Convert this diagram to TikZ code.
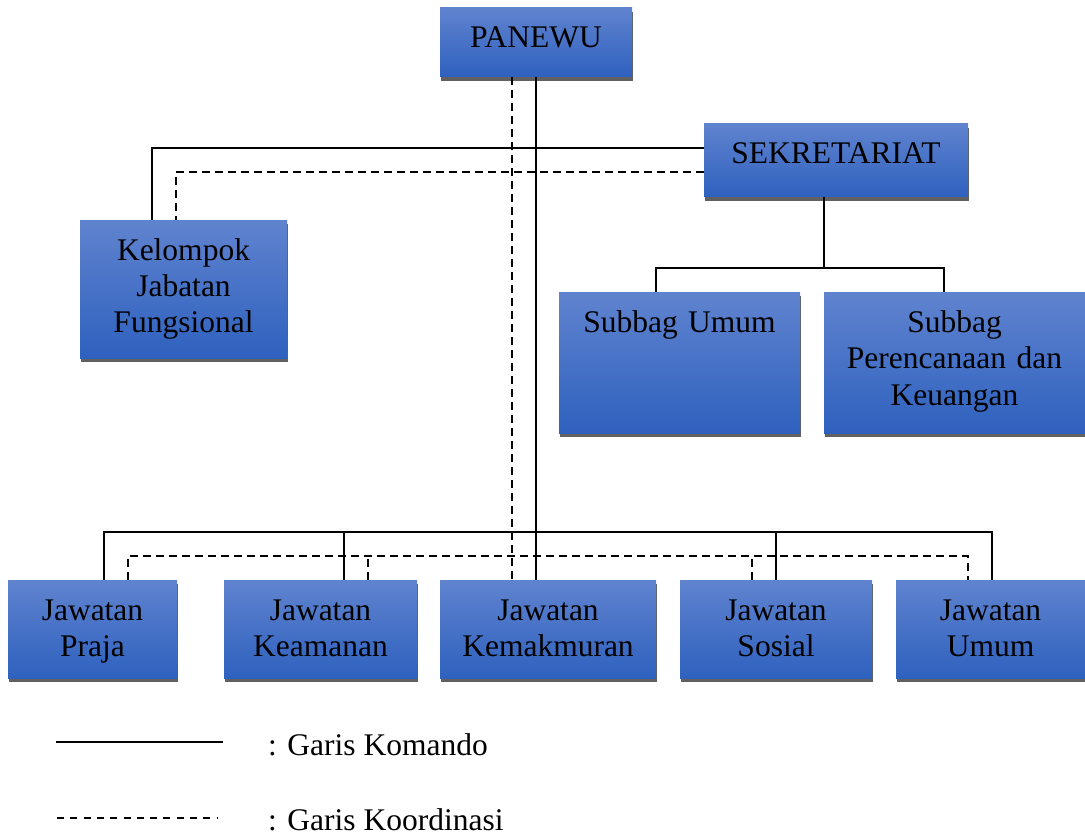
\documentclass[tikz,border=0pt]{standalone}
\usepackage{fontspec}
\setmainfont{Liberation Serif}
\usetikzlibrary{shadows}
\definecolor{boxtop}{RGB}{96,131,207}
\definecolor{boxbot}{RGB}{46,97,190}
\tikzset{
  orgbox/.style={inner sep=0pt, outer sep=0pt, align=center, anchor=north west,
    text height=40pt, draw=none, top color=boxtop, bottom color=boxbot,
    drop shadow={shadow xshift=1pt, shadow yshift=-4pt, fill=black!62, opacity=1},
    font=\fontsize{31.5}{36.5}\selectfont},
  komando/.style={line width=1.8pt, black},
  koord/.style={line width=1.8pt, black, dash pattern=on 8pt off 5pt},
  legkoord/.style={line width=1.6pt, black, dash pattern=on 7pt off 6.3pt},
  legtext/.style={anchor=base west, inner sep=0pt, font=\fontsize{31.5}{36.5}\selectfont}
}
\begin{document}
\begin{tikzpicture}[x=1pt,y=-1pt]
\useasboundingbox (0,0) rectangle (1085,832);
% boxes
\node[orgbox, text width=192pt, text depth=29pt] (pan) at (440,8) {PANEWU};
\node[orgbox, text width=264pt, text depth=33pt] (sek) at (704,124) {SEKRETARIAT};
\node[orgbox, text width=207pt, text depth=98pt] (kjf) at (80,220) {Kelompok\\Jabatan\\Fungsional};
\node[orgbox, text width=241pt, text depth=101pt] (sbu) at (559,292) {Subbag Umum};
\node[orgbox, text width=261pt, text depth=101pt] (spk) at (824,292) {Subbag\\Perencanaan dan\\Keuangan};
\node[orgbox, text width=169pt, text depth=58pt] (jp) at (8,580) {Jawatan\\Praja};
\node[orgbox, text width=193pt, text depth=58pt] (jk) at (224,580) {Jawatan\\Keamanan};
\node[orgbox, text width=216pt, text depth=58pt] (jm) at (440,580) {Jawatan\\Kemakmuran};
\node[orgbox, text width=192pt, text depth=58pt] (js) at (680,580) {Jawatan\\Sosial};
\node[orgbox, text width=189pt, text depth=58pt] (ju) at (896,580) {Jawatan\\Umum};
% PANEWU to bottom row
\draw[komando] (pan.south) -- (pan.south |- jm.north);
\draw[koord] ([xshift=-24pt]pan.south) -- ([xshift=-24pt]pan.south |- jm.north);
% Sekretariat to Kelompok
\draw[komando] ([yshift=-24pt]sek.north west) -| ([xshift=72pt]kjf.north west);
\draw[koord] ([yshift=-48pt]sek.north west) -| ([xshift=96pt]kjf.north west);
% Sekretariat to subbags
\draw[komando] ([xshift=-12pt]sek.south) -- ++(0,71) coordinate (sj);
\draw[komando] ([xshift=97pt]sbu.north west) |- (sj) -| ([xshift=120pt]spk.north west);
% bottom bus (komando)
\draw[komando] ([xshift=96pt]jp.north west) -- ++(0,-48) -| ([xshift=96pt]ju.north west);
\draw[komando] ([xshift=120pt]jk.north west) -- ++(0,-48);
\draw[komando] ([xshift=96pt]js.north west) -- ++(0,-48);
% bottom bus (koordinasi)
\draw[koord] ([xshift=120pt]jp.north west) -- ++(0,-24) -| ([xshift=72pt]ju.north west);
\draw[koord] ([xshift=144pt]jk.north west) -- ++(0,-24);
\draw[koord] ([xshift=72pt]js.north west) -- ++(0,-24);
% legend
\coordinate (l1a) at (56,742);
\coordinate (l1b) at (223,742);
\coordinate (l2a) at (57,818);
\coordinate (l2b) at (218,818);
\draw[line width=1.6pt] (l1a) -- (l1b);
\draw[legkoord] (l2a) -- (l2b);
\node[legtext] (t1) at (268,755) {: Garis Komando};
\node[legtext] (t2) at (268,830) {: Garis Koordinasi};
\end{tikzpicture}
\end{document}
